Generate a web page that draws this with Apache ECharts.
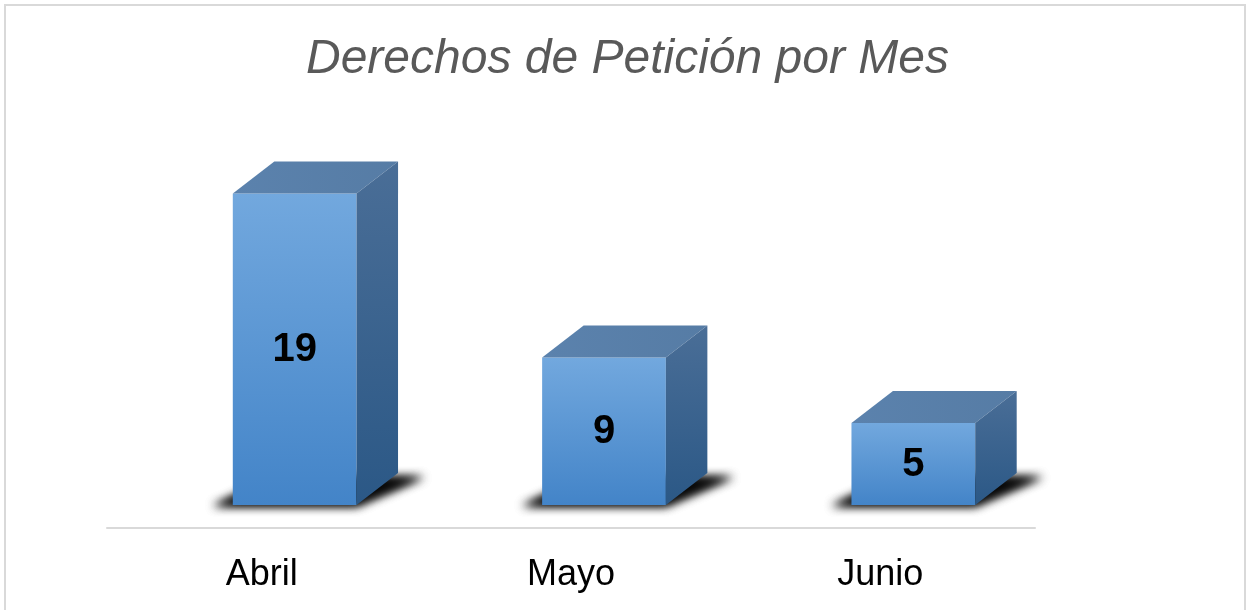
<!DOCTYPE html>
<html>
<head>
<meta charset="utf-8">
<script src="https://cdn.jsdelivr.net/npm/echarts@6/dist/echarts.min.js"></script>
<style>
html,body{margin:0;padding:0;background:#fff;}
#chart{width:1246px;height:610px;}
</style>
</head>
<body>
<div id="chart"></div>
<script>
const categories = ['Abril', 'Mayo', 'Junio'];
const values = [19, 9, 5];
const chartTitle = 'Derechos de Petición por Mes';

const chart = echarts.init(document.getElementById('chart'));
const FONT = '"Liberation Sans", Arial, sans-serif';
const DX = 41.5, DY = 32;      // 3D depth offset
const SHIFT_X = 33, SHIFT_Y = 23; // front face offset from floor axis
const OFF = 3000;

function renderItem(params, api) {
  const idx = api.value(0);
  const v = api.value(1);
  const base = api.coord([idx, 0]);
  const topPt = api.coord([idx, v]);
  const bw = api.size([1, 0])[0] * 0.4;
  const cx = base[0] + SHIFT_X;
  const L = cx - bw / 2, R = cx + bw / 2;
  const B = base[1] - SHIFT_Y;
  const T = topPt[1] - SHIFT_Y;
  const G = echarts.graphic.LinearGradient;
  const sh = [[L - 20, B + 1], [R, B + 1], [R + DX + 26, B - DY + 4], [L + DX, B - DY + 4]]
    .map(p => [p[0] - OFF, p[1]]);
  const shadowStyle = { fill: '#000', shadowBlur: 10, shadowColor: 'rgba(0,0,0,0.85)', shadowOffsetX: OFF, shadowOffsetY: 0 };
  return {
    type: 'group',
    children: [
      { type: 'polygon', shape: { points: sh }, style: shadowStyle, silent: true },
      { type: 'polygon', shape: { points: sh }, style: shadowStyle, silent: true },
      {
        type: 'rect',
        shape: { x: L, y: T, width: bw, height: B - T },
        style: { fill: new G(0, 0, 0, 1, [{ offset: 0, color: '#72a8de' }, { offset: 1, color: '#4384c8' }]) }
      },
      {
        type: 'polygon',
        shape: { points: [[L, T], [R, T], [R + DX, T - DY], [L + DX, T - DY]] },
        style: { fill: new G(0, 0, 1, 0, [{ offset: 0, color: '#5b82ad' }, { offset: 1, color: '#567ca5' }]) }
      },
      {
        type: 'polygon',
        shape: { points: [[R, T], [R + DX, T - DY], [R + DX, B - DY], [R, B]] },
        style: { fill: new G(0, 0, 0, 1, [{ offset: 0, color: '#4a6e97' }, { offset: 1, color: '#2b5886' }]) }
      },
      {
        type: 'text',
        style: {
          text: String(v), x: cx, y: (T + B) / 2 + 1,
          align: 'center', verticalAlign: 'middle',
          font: 'bold 40px ' + FONT, fill: '#000'
        }
      }
    ]
  };
}

chart.setOption({
  animation: false,
  backgroundColor: '#fff',
  title: {
    text: chartTitle, left: 301, top: 31,
    textStyle: { fontFamily: FONT, fontSize: 48, fontStyle: 'italic', fontWeight: 'normal', color: '#595959' }
  },
  graphic: [{
    type: 'rect', shape: { x: 5, y: 5, width: 1240, height: 620 },
    style: { fill: 'none', stroke: '#d9d9d9', lineWidth: 2 }, silent: true, z: -1
  }],
  grid: { left: 107, right: 211, top: 200, bottom: 82 },
  xAxis: {
    type: 'category', data: categories,
    axisLine: { lineStyle: { color: '#d9d9d9', width: 2 } },
    axisTick: { show: false },
    axisLabel: { fontFamily: FONT, fontSize: 36, color: '#000', margin: 29 },
    splitLine: { show: false }
  },
  yAxis: { type: 'value', min: 0, max: 20, show: false, splitLine: { show: false } },
  series: [{
    type: 'custom',
    renderItem: renderItem,
    data: values.map((v, i) => [i, v]),
    encode: { x: 0, y: 1 },
    clip: false
  }]
});
</script>
</body>
</html>
